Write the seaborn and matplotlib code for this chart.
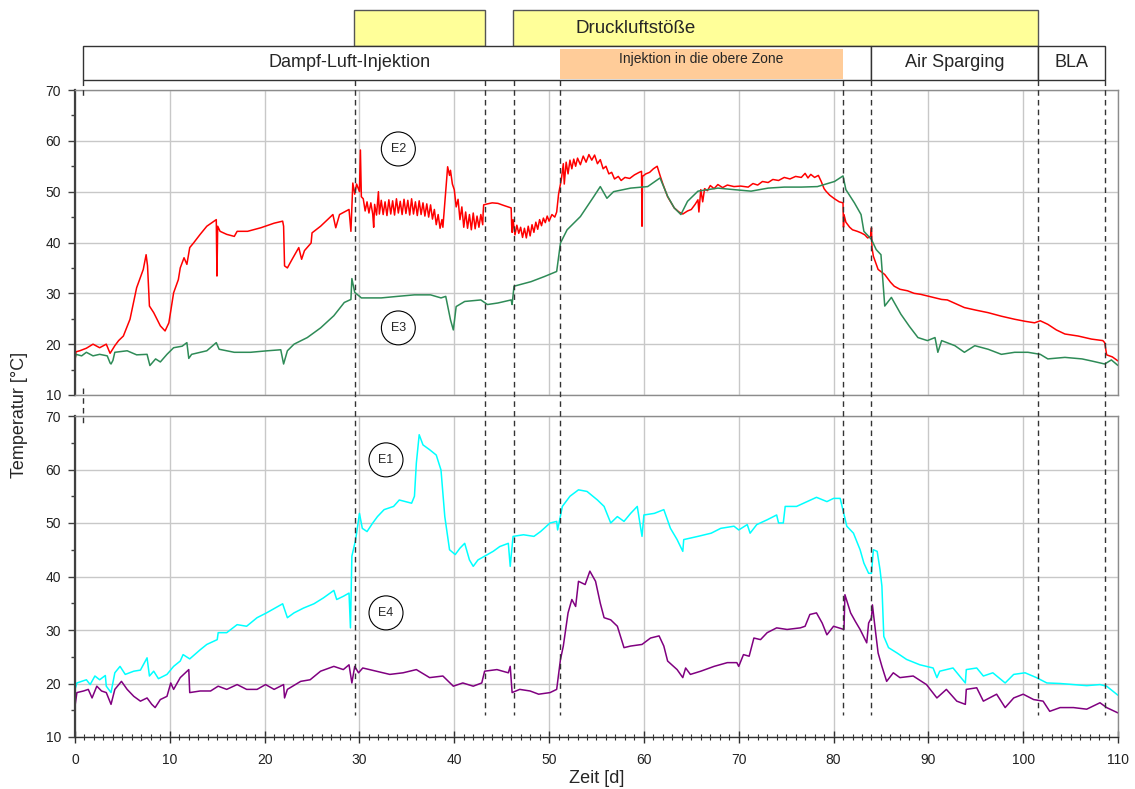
import pandas as pd
import numpy as np
import matplotlib.pyplot as plt
import matplotlib.patches as mpatches
from matplotlib.ticker import MultipleLocator
import seaborn as sns

sns.set_style('whitegrid')
plt.rcParams['font.family'] = ['Liberation Sans', 'DejaVu Sans']

# --- Messwerte (Zeit [d], Temperatur [°C]) ---
e2 = [(0.0, 16.7), (0.1, 18.5), (0.5, 18.7), (1.2, 19.2), (1.9, 20.0), (2.6, 19.3), (3.3, 20.0), (3.7, 18.2),
      (4.2, 19.7), (4.6, 20.7), (5.1, 21.6), (5.8, 24.9), (6.5, 31.1), (7.2, 34.7), (7.5, 37.6), (7.65, 35.4),
      (7.85, 27.5), (8.3, 26.2), (9.0, 23.6), (9.5, 22.6), (9.9, 24.2), (10.4, 30.1), (10.9, 32.7), (11.1, 35.0),
      (11.5, 37.0), (11.8, 35.7), (12.1, 39.0), (12.5, 39.9), (13.2, 41.6), (13.9, 43.2), (14.9, 44.5),
      (14.97, 33.4), (15.05, 43.2), (15.3, 42.2), (16.0, 41.6), (16.8, 41.2), (17.1, 42.2), (18.2, 42.2),
      (19.6, 42.9), (21.0, 43.8), (21.9, 44.2), (22.0, 43.2), (22.1, 35.4), (22.4, 35.0), (22.9, 36.7),
      (23.6, 39.0), (23.9, 36.7), (24.2, 38.4), (24.9, 39.9), (25.0, 41.9), (25.9, 43.2), (27.2, 45.5),
      (27.5, 42.9), (27.9, 45.5), (28.9, 46.5), (29.1, 42.2), (29.3, 51.7), (29.5, 49.5), (29.7, 51.5),
      (30.0, 50.0), (30.1, 58.2), (30.2, 49.0),
      (30.4, 48.6), (30.6, 46.2), (30.8, 48.0), (31.0, 45.8), (31.2, 47.8), (31.4, 45.6), (31.5, 43.0),
      (31.6, 47.5), (31.8, 45.4), (32.0, 50.0), (32.1, 45.6), (32.3, 48.3), (32.5, 45.5), (32.7, 48.0),
      (32.9, 45.3), (33.1, 48.4), (33.3, 45.6), (33.5, 48.2), (33.7, 45.4), (33.9, 48.6), (34.1, 45.8),
      (34.3, 48.1), (34.5, 45.5), (34.7, 48.5), (34.9, 45.7), (35.1, 48.3), (35.3, 45.4), (35.5, 48.6),
      (35.7, 45.6), (35.9, 48.0), (36.1, 45.3), (36.3, 48.2), (36.5, 45.5), (36.7, 47.8), (36.9, 45.2),
      (37.1, 47.6), (37.3, 45.0), (37.5, 47.4), (37.7, 44.6), (37.9, 46.5), (38.1, 43.5), (38.3, 45.5),
      (38.5, 42.8), (38.7, 44.5), (38.8, 43.0),
      (39.1, 50.0), (39.3, 54.9), (39.5, 53.2), (39.6, 54.2), (39.8, 51.5), (40.0, 50.4), (40.2, 47.0),
      (40.4, 48.5), (40.6, 44.5), (40.8, 47.0), (41.0, 43.0), (41.2, 46.0), (41.4, 42.8), (41.6, 45.5),
      (41.8, 42.5), (42.0, 45.8), (42.2, 42.7), (42.4, 45.2), (42.6, 43.0), (42.8, 45.5), (43.0, 43.5),
      (43.05, 46.0), (43.1, 47.4), (43.5, 47.6), (44.0, 47.8), (44.6, 47.7), (45.2, 47.3), (45.7, 47.0),
      (46.0, 46.8), (46.05, 43.5), (46.1, 42.0), (46.2, 44.5),
      (46.4, 41.5), (46.6, 43.4), (46.8, 41.8), (47.0, 43.0), (47.2, 41.0), (47.4, 42.8), (47.6, 40.9),
      (47.8, 43.2), (48.0, 41.3), (48.2, 43.5), (48.4, 42.0), (48.6, 44.0), (48.8, 42.6), (49.0, 44.5),
      (49.2, 43.3), (49.4, 44.8), (49.6, 43.9), (49.8, 45.2), (50.0, 44.2), (50.3, 45.5), (50.6, 45.0),
      (50.8, 46.0), (51.0, 49.5), (51.3, 52.5), (51.5, 55.5), (51.6, 51.5), (51.8, 55.8), (52.0, 53.5),
      (52.2, 56.2), (52.4, 54.5), (52.6, 56.4), (52.8, 55.0), (53.0, 56.6), (53.3, 55.3), (53.6, 57.0),
      (53.9, 55.8), (54.2, 57.3), (54.5, 56.2), (54.8, 57.2), (55.1, 55.5), (55.4, 56.3), (55.7, 54.5),
      (56.0, 55.0), (56.3, 53.5), (56.6, 53.8), (56.9, 52.5), (57.3, 53.0), (57.6, 52.2), (58.0, 52.8),
      (58.5, 52.6), (59.0, 53.3), (59.5, 53.8), (59.75, 54.0), (59.8, 43.2), (59.85, 53.0), (60.2, 53.5),
      (60.6, 53.8), (61.0, 54.5), (61.4, 55.0), (61.7, 53.2), (62.0, 51.5), (62.5, 49.0), (63.2, 46.8),
      (63.7, 46.0), (64.1, 45.6), (64.6, 46.2), (65.0, 46.5), (65.4, 47.5), (65.7, 48.4), (65.8, 46.0),
      (66.0, 50.4), (66.2, 48.0), (66.4, 50.6), (66.7, 50.2), (67.0, 51.2), (67.4, 50.6), (67.8, 51.4),
      (68.3, 50.8), (68.8, 51.3), (69.5, 51.0), (70.2, 51.1), (71.0, 50.9), (71.5, 51.6), (72.0, 51.3),
      (72.5, 52.0), (73.1, 51.8), (73.6, 52.4), (74.2, 52.2), (74.8, 52.8), (75.4, 52.5), (76.0, 53.0),
      (76.6, 52.8), (77.0, 53.6), (77.3, 52.7), (77.6, 53.4), (78.0, 52.8), (78.4, 53.2), (78.7, 52.0),
      (79.0, 50.6), (79.2, 50.1), (79.6, 49.3), (80.1, 48.6), (80.6, 48.0), (81.0, 47.8), (81.05, 43.0),
      (81.1, 45.5), (81.3, 44.0), (81.7, 43.0), (82.0, 42.5), (82.5, 42.2), (82.9, 41.9), (83.3, 41.5),
      (83.6, 40.9), (83.9, 41.2), (84.0, 42.9), (84.05, 39.0), (84.2, 37.3), (84.7, 34.7), (85.4, 33.7),
      (86.0, 32.2), (86.4, 31.4), (87.0, 30.8), (87.8, 30.5), (88.5, 30.0), (89.2, 29.8), (90.3, 29.3),
      (91.4, 28.8), (92.0, 28.7), (92.6, 28.2), (93.8, 27.2), (95.0, 26.7), (96.3, 26.2), (97.7, 25.5),
      (99.1, 24.9), (100.2, 24.5), (101.2, 24.2), (101.8, 24.6), (102.6, 23.9), (103.5, 22.8), (104.4, 22.0),
      (105.8, 21.6), (107.2, 21.0), (108.4, 20.7), (108.6, 20.3), (108.8, 17.9), (109.4, 17.5), (110.0, 16.7)]

e3 = [(0.0, 17.1), (0.1, 18.0), (0.7, 17.7), (1.2, 18.4), (1.9, 17.7), (2.6, 18.0), (3.4, 17.7), (3.7, 16.3),
      (3.8, 16.1), (4.0, 16.8), (4.2, 18.4), (5.5, 18.7), (6.5, 17.9), (7.6, 18.0), (7.9, 15.8), (8.5, 17.1),
      (9.0, 16.5), (9.7, 18.0), (10.4, 19.3), (11.3, 19.6), (11.8, 20.3), (12.0, 17.2), (12.3, 18.0),
      (13.9, 18.7), (14.9, 20.3), (15.2, 19.0), (16.8, 18.4), (18.5, 18.4), (20.3, 18.7), (21.7, 18.9),
      (22.0, 16.1), (22.4, 18.7), (23.1, 20.0), (24.5, 21.3), (25.9, 23.2), (27.3, 25.6), (28.4, 28.2),
      (29.1, 28.8), (29.2, 32.9), (29.5, 30.2), (30.2, 29.1), (32.3, 29.1), (34.0, 29.4), (35.8, 29.7),
      (37.5, 29.7), (38.6, 29.1), (39.1, 29.4), (39.6, 24.8), (39.9, 22.8), (40.2, 27.4), (41.1, 28.4),
      (42.8, 28.7), (43.5, 27.8), (44.6, 28.1), (46.0, 28.7), (46.1, 27.8), (46.3, 31.4), (48.1, 32.3),
      (49.5, 33.3), (50.8, 34.3), (51.2, 39.9), (51.9, 42.5), (53.3, 45.1), (54.7, 49.0), (55.4, 51.0),
      (56.1, 48.7), (56.8, 50.0), (58.6, 50.7), (60.4, 51.0), (61.7, 52.7), (62.5, 49.1), (63.2, 46.8),
      (63.9, 45.5), (64.6, 48.1), (65.7, 50.1), (67.8, 50.7), (69.5, 50.4), (71.3, 50.1), (73.1, 50.7),
      (74.8, 50.9), (76.6, 50.9), (78.3, 51.0), (80.1, 52.0), (81.0, 53.1), (81.3, 50.4), (82.2, 47.8),
      (82.9, 45.5), (83.2, 42.2), (84.0, 40.6), (84.5, 38.6), (85.0, 37.6), (85.4, 27.5), (86.1, 29.2),
      (87.1, 25.9), (88.0, 23.5), (88.9, 21.3), (89.9, 20.7), (90.7, 21.3), (91.0, 18.4), (91.4, 20.7),
      (92.8, 19.7), (93.8, 18.4), (94.9, 19.7), (96.3, 19.0), (97.7, 18.0), (99.1, 18.4), (100.5, 18.4),
      (101.8, 18.0), (102.6, 17.1), (104.4, 17.4), (106.2, 17.1), (107.2, 16.7), (108.6, 16.1), (109.3, 16.9),
      (110.0, 15.8)]

e1 = [(0.0, 18.9), (0.2, 20.1), (1.2, 20.7), (1.6, 19.8), (2.1, 21.4), (2.6, 20.7), (3.2, 21.5), (3.3, 19.5),
      (3.8, 18.3), (4.2, 22.0), (4.75, 23.2), (5.3, 21.7), (6.2, 22.3), (6.9, 22.5), (7.6, 24.8), (7.85, 21.4),
      (8.3, 22.3), (8.8, 20.9), (9.7, 21.7), (10.4, 23.2), (11.1, 24.2), (11.4, 25.4), (12.1, 24.6),
      (13.2, 26.3), (13.9, 27.3), (15.0, 28.2), (15.1, 29.5), (16.0, 29.5), (17.1, 31.0), (18.1, 30.7),
      (19.2, 32.3), (20.2, 33.2), (21.1, 34.1), (21.9, 34.9), (22.4, 32.3), (23.1, 33.2), (24.1, 34.1),
      (25.2, 34.9), (26.2, 36.0), (27.3, 37.4), (27.6, 35.7), (28.3, 36.3), (28.9, 36.9), (29.05, 30.4),
      (29.2, 43.8), (29.6, 46.9), (30.0, 51.8), (30.3, 49.0), (30.8, 48.4), (31.4, 50.0), (31.9, 51.2),
      (32.6, 52.5), (33.6, 53.1), (34.2, 54.3), (35.5, 53.7), (35.8, 55.0), (36.0, 61.2), (36.3, 66.5),
      (36.7, 64.6), (37.4, 63.7), (38.1, 62.7), (38.6, 59.9), (39.0, 51.2), (39.5, 45.0), (40.1, 44.1),
      (40.6, 45.3), (41.1, 46.2), (41.6, 43.1), (42.0, 41.9), (42.5, 43.1), (43.2, 43.8), (44.1, 44.7),
      (44.8, 45.6), (45.7, 46.2), (45.9, 41.9), (46.2, 47.5), (47.3, 47.8), (48.4, 47.5), (49.1, 48.4),
      (50.1, 50.0), (50.8, 50.3), (50.9, 48.7), (51.4, 53.1), (52.2, 55.0), (53.1, 56.2), (54.0, 55.9),
      (55.1, 54.3), (55.8, 53.1), (56.5, 50.0), (57.2, 51.2), (57.9, 50.3), (58.6, 51.8), (59.3, 53.1),
      (59.8, 47.5), (60.0, 51.5), (61.1, 51.8), (62.1, 52.5), (62.8, 49.0), (63.5, 46.9), (64.1, 44.7),
      (64.2, 46.9), (65.7, 47.5), (67.1, 48.1), (68.1, 49.0), (69.5, 49.4), (70.0, 48.7), (70.9, 49.7),
      (71.2, 48.1), (71.9, 49.7), (73.0, 50.6), (74.0, 51.5), (74.2, 50.0), (74.7, 50.0), (74.9, 53.1),
      (76.1, 53.1), (77.2, 54.0), (78.2, 54.8), (79.3, 54.0), (80.0, 54.6), (80.7, 54.6), (81.4, 49.4),
      (82.1, 48.1), (82.8, 45.0), (83.2, 42.5), (83.7, 40.6), (84.0, 40.6), (84.2, 45.0), (84.6, 44.7),
      (84.9, 41.3), (85.1, 38.2), (85.3, 28.8), (85.8, 26.7), (86.7, 25.7), (87.7, 24.5), (89.1, 23.5),
      (90.5, 22.9), (90.9, 21.1), (91.2, 22.3), (92.6, 22.9), (93.9, 20.1), (94.0, 22.6), (95.1, 22.9),
      (95.8, 21.4), (96.8, 22.0), (98.1, 20.1), (99.0, 21.7), (100.2, 22.0), (101.4, 21.1), (102.5, 20.1),
      (103.9, 20.0), (105.3, 19.8), (106.7, 19.6), (108.1, 19.8), (108.8, 19.5), (110.0, 17.8)]

e4 = [(0.0, 15.8), (0.2, 18.3), (0.9, 18.6), (1.4, 18.9), (1.8, 17.3), (2.3, 19.5), (2.8, 18.6), (3.3, 18.3),
      (3.8, 16.1), (4.2, 18.9), (4.9, 20.4), (5.5, 18.9), (6.2, 17.6), (6.9, 16.7), (7.6, 17.3), (8.1, 16.1),
      (8.45, 15.5), (9.0, 17.0), (9.7, 17.6), (10.1, 20.1), (10.4, 18.9), (11.1, 21.1), (12.0, 22.6),
      (12.1, 18.3), (13.2, 18.6), (14.3, 18.6), (15.1, 19.5), (16.0, 18.9), (17.1, 19.8), (18.1, 18.9),
      (19.2, 18.9), (20.1, 19.8), (21.0, 18.9), (22.0, 19.8), (22.1, 17.3), (22.4, 18.9), (23.8, 20.4),
      (24.8, 20.7), (25.9, 22.3), (27.3, 23.2), (28.3, 22.6), (28.9, 23.5), (29.2, 20.1), (29.5, 23.2),
      (29.9, 22.0), (30.35, 22.9), (31.8, 22.3), (33.2, 21.7), (34.6, 22.0), (36.0, 22.6), (37.4, 21.1),
      (38.8, 21.4), (39.9, 19.5), (40.9, 20.1), (42.0, 19.5), (42.9, 20.1), (43.2, 22.3), (44.5, 22.6),
      (45.7, 22.0), (45.9, 23.2), (46.1, 18.3), (46.9, 18.9), (48.0, 18.6), (48.9, 18.0), (50.1, 18.3),
      (50.8, 18.9), (51.2, 24.5), (51.5, 27.0), (52.0, 33.2), (52.4, 35.7), (52.8, 34.4), (53.1, 39.1),
      (53.8, 38.5), (54.3, 41.0), (54.9, 39.1), (55.4, 35.0), (55.8, 32.3), (56.5, 31.9), (57.2, 30.7),
      (57.9, 26.7), (58.6, 27.0), (59.8, 27.3), (60.7, 28.5), (61.6, 28.9), (62.1, 27.0), (62.5, 24.2),
      (63.5, 22.6), (64.1, 21.1), (64.4, 22.9), (64.9, 21.7), (66.0, 22.3), (67.4, 23.2), (68.8, 23.9),
      (69.8, 23.9), (70.0, 23.2), (70.5, 25.4), (71.1, 25.1), (71.6, 28.5), (72.3, 28.2), (73.0, 29.5),
      (74.0, 30.4), (75.1, 30.1), (76.5, 30.4), (77.0, 30.7), (77.5, 32.9), (78.2, 33.2), (78.8, 31.3),
      (79.3, 29.1), (80.0, 30.7), (81.1, 30.1), (81.2, 36.6), (81.8, 33.2), (82.3, 31.6), (82.8, 30.1),
      (83.5, 27.6), (83.7, 31.3), (84.0, 32.3), (84.1, 34.7), (84.4, 30.1), (84.7, 25.7), (85.1, 23.2),
      (85.6, 20.4), (86.3, 22.0), (87.0, 21.1), (88.4, 21.4), (89.8, 19.8), (90.9, 17.3), (91.9, 18.9),
      (93.0, 16.7), (93.9, 16.1), (94.0, 18.9), (95.1, 19.2), (95.8, 16.7), (97.2, 18.0), (98.1, 15.5),
      (99.0, 17.3), (100.0, 18.0), (101.1, 17.0), (102.1, 16.7), (102.8, 14.8), (103.9, 15.5), (105.3, 15.5),
      (106.7, 15.2), (108.1, 16.4), (108.8, 15.5), (110.0, 14.5)]

# Phasen (Beginn, Ende in d)
phase_main = [('Dampf-Luft-Injektion', 0.85, 84.0), ('Air Sparging', 84.0, 101.6), ('BLA', 101.6, 108.6)]
phase_label_pos = [29.0, 92.8, 105.1]
druckluft = [(29.4, 43.2), (46.2, 101.6)]
druckluft_label_pos = 59.1
obere_zone = (51.2, 81.0)
dashed_times = [29.5, 43.2, 46.3, 51.2, 81.0, 84.0, 101.6, 108.6]
first_dash = 0.85

# Beschriftung der Messstellen: (Name, Zeit, Temperatur)
labels_top = [('E2', 34.1, 58.4), ('E3', 34.1, 23.2)]
labels_bot = [('E1', 32.8, 61.8), ('E4', 32.8, 33.2)]

colors = {'E2': '#ff0000', 'E3': '#2e8b57', 'E1': '#00ffff', 'E4': '#800080'}

W, H = 1135, 789
fig = plt.figure(figsize=(W / 100, H / 100), dpi=100)


def frac(x0, y0, x1, y1):
    return [x0 / W, 1 - y1 / H, (x1 - x0) / W, (y1 - y0) / H]


ax_top = fig.add_axes(frac(75, 90, 1118, 395))
ax_bot = fig.add_axes(frac(75, 416, 1118, 737))

for ax, series in [(ax_top, [('E2', e2), ('E3', e3)]), (ax_bot, [('E1', e1), ('E4', e4)])]:
    for name, pts in series:
        df = pd.DataFrame(pts, columns=['t', 'T'])
        sns.lineplot(data=df, x='t', y='T', ax=ax, color=colors[name], lw=1.1,
                     estimator=None, sort=False)


def style(ax, bottom):
    ax.set_xlim(0, 110)
    ax.set_ylim(10, 70)
    ax.xaxis.set_major_locator(MultipleLocator(10))
    ax.yaxis.set_major_locator(MultipleLocator(10))
    ax.yaxis.set_minor_locator(MultipleLocator(5))
    ax.grid(True, which='major', color='#c8c8c8', lw=1.0)
    ax.grid(False, which='minor')
    for s in ax.spines.values():
        s.set_color('#8c8c8c')
        s.set_linewidth(1.0)
    ax.spines['left'].set_color('#404040')
    ax.spines['left'].set_linewidth(1.6)
    ax.tick_params(axis='y', which='major', left=True, length=5, width=1, color='#404040',
                   labelsize=10, labelcolor='#222222', pad=5)
    ax.tick_params(axis='y', which='minor', left=True, length=3, width=1, color='#404040')
    if bottom:
        ax.xaxis.set_minor_locator(MultipleLocator(1))
        ax.spines['bottom'].set_color('#303030')
        ax.tick_params(axis='x', which='major', bottom=True, direction='inout', length=9, width=1,
                       color='#303030', labelsize=10, labelcolor='#222222', pad=7)
        ax.tick_params(axis='x', which='minor', bottom=True, direction='inout', length=5, width=0.8,
                       color='#303030')
    else:
        ax.tick_params(axis='x', which='both', bottom=False, labelbottom=False)
    ax.set_xlabel('')
    ax.set_ylabel('')


style(ax_top, False)
style(ax_bot, True)
ax_bot.set_xlabel('Zeit [d]', fontsize=13, labelpad=2)
fig.text(20 / W, 1 - 415 / H, 'Temperatur [°C]', rotation=90, va='center', ha='center', fontsize=13)

for ax, labs in [(ax_top, labels_top), (ax_bot, labels_bot)]:
    for name, t, T in labs:
        ax.text(t, T, name, ha='center', va='center', fontsize=9, zorder=6,
                bbox=dict(boxstyle='circle,pad=0.75', fc='white', ec='black', lw=0.8))

# Phasenbalken und Trennlinien in Pixelhoehe ueber die ganze Figur
ov = fig.add_axes([75 / W, 0, (1118 - 75) / W, 1], zorder=10)
ov.set_xlim(0, 110)
ov.set_ylim(H, 0)
ov.axis('off')
ov.patch.set_alpha(0)

for a, b in druckluft:
    ov.add_patch(mpatches.Rectangle((a, 10), b - a, 36, fc='#ffff99', ec='#555555', lw=1.0))
ov.text(druckluft_label_pos, 28, 'Druckluftstöße', ha='center', va='center', fontsize=13.5)

for (name, a, b), xp in zip(phase_main, phase_label_pos):
    ov.add_patch(mpatches.Rectangle((a, 46), b - a, 34, fc='white', ec='#333333', lw=1.0))
    ov.text(xp, 62, name, ha='center', va='center', fontsize=13)

ov.add_patch(mpatches.Rectangle((obere_zone[0], 49), obere_zone[1] - obere_zone[0], 30,
                                fc='#ffcc99', ec='none'))
ov.text(66.0, 59, 'Injektion in die obere Zone', ha='center', va='center', fontsize=10)

dash = (0, (4, 3))
for t in dashed_times:
    ov.plot([t, t], [80, 715], ls=dash, color='#333333', lw=1.0)
ov.plot([first_dash, first_dash], [80, 98], ls=dash, color='#333333', lw=1.0)
ov.plot([first_dash, first_dash], [388, 424], ls=dash, color='#333333', lw=1.0)

plt.savefig('out.png', dpi=100)
